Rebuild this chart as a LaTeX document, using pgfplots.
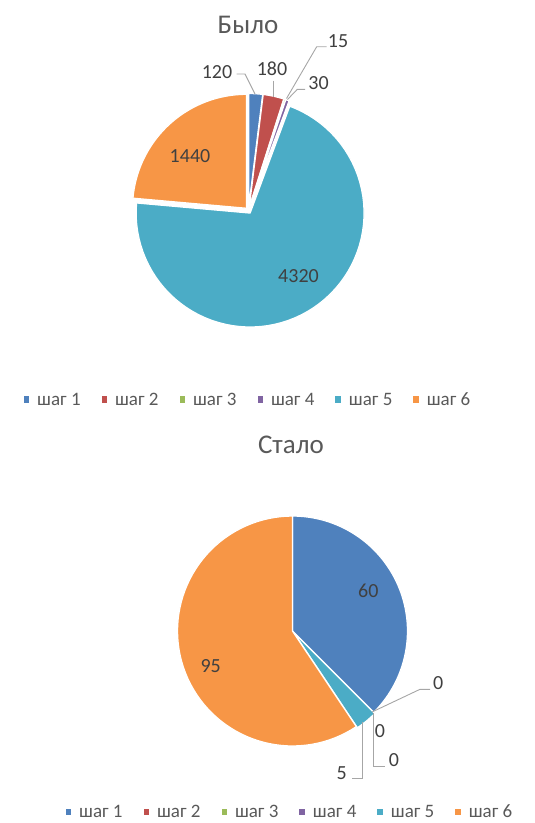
\documentclass[border=0pt]{standalone}
\usepackage{pgfplots}
\pgfplotsset{compat=1.18}
\usepackage{fontspec}
\setmainfont{Carlito}
\definecolor{c1}{HTML}{4F81BD}
\definecolor{c2}{HTML}{C0504D}
\definecolor{c3}{HTML}{9BBB59}
\definecolor{c4}{HTML}{8064A2}
\definecolor{c5}{HTML}{4BACC6}
\definecolor{c6}{HTML}{F79646}
\definecolor{lbl}{HTML}{404040}
\definecolor{ttl}{HTML}{595959}
\definecolor{leader}{HTML}{A6A6A6}

% one wedge: colour, start angle, end angle, cx, cy, r, explode
\newcommand\slice[7]{%
  \pgfmathsetmacro\midang{(#2+#3)/2}%
  \pgfmathsetmacro\ox{#4+#7*cos(\midang)}%
  \pgfmathsetmacro\oy{#5+#7*sin(\midang)}%
  \edef\doslice{\noexpand\addplot[fill=#1, draw=white, line width=1.3pt, line join=round, domain=#3:#2, samples=72, forget plot] ({\ox+#6*cos(x)}, {\oy+#6*sin(x)}) -- (axis cs:\ox,\oy) -- cycle;}%
  \doslice}
\newcommand\startpie[4]{\xdef\curang{90}\xdef\pietot{#1}\xdef\pcx{#2}\xdef\pcy{#3}\xdef\pr{#4}}
% colour, value, explode
\newcommand\nextslice[3]{%
  \pgfmathsetmacro\endang{\curang-#2/\pietot*360}%
  \ifdim #2pt>0pt \slice{#1}{\curang}{\endang}{\pcx}{\pcy}{\pr}{#3}\fi
  \xdef\curang{\endang}}

\tikzset{lab/.style={font=\fontsize{20}{20}\selectfont, text=lbl}}
\pgfplotsset{
  piestyle/.style={
    width=535pt, height=411.5pt, scale only axis,
    xmin=0, xmax=535, hide axis, clip=false,
    legend columns=6,
    legend image code/.code={\fill[##1, draw=none] (0pt,-3pt) rectangle (5.5pt,3.5pt);},
    legend style={draw=none, fill=none, anchor=center,
      font=\fontsize{19}{19}\selectfont, text=ttl,
      nodes={inner ysep=1pt},
      /tikz/every odd column/.append style={column sep=6pt},
      /tikz/every even column/.append style={column sep=19pt}},
  },
  lead/.style={draw=leader, line width=0.9pt, no marks, forget plot},
}

\begin{document}
\begin{tikzpicture}
\useasboundingbox (0pt,0pt) rectangle (535pt,-823pt);
% ---------------- Было ----------------
\begin{axis}[piestyle, at={(0pt,0pt)}, anchor=north west,
  ymin=-411.5, ymax=0,
  legend style={at={(rel axis cs:0.4636,0.028)}}]
\startpie{6105}{248.5}{-210.5}{114}
\nextslice{c1}{120}{3}
\nextslice{c2}{180}{3}
\nextslice{c3}{15}{3}
\nextslice{c4}{30}{3}
\nextslice{c5}{4320}{3}
\nextslice{c6}{1440}{3}
\addplot[lead] coordinates {(236.7,-74) (245,-74) (255,-94)};
\addplot[lead] coordinates {(273,-80.7) (273,-96.5)};
\addplot[lead] coordinates {(326.7,-46.7) (316.7,-46.7) (286.5,-98.5)};
\addplot[lead] coordinates {(305,-89.3) (297.3,-89.3) (287.5,-99.5)};
\node[lab] at (axis cs:217,-72) {120};
\node[lab] at (axis cs:272,-69) {180};
\node[lab] at (axis cs:338,-41) {15};
\node[lab] at (axis cs:318.5,-83.5) {30};
\node[lab] at (axis cs:190,-156) {1440};
\node[lab] at (axis cs:298.5,-276) {4320};
\node[font=\fontsize{27}{27}\selectfont, text=ttl] at (axis cs:248,-25) {Было};
\addlegendimage{fill=c1}\addlegendentry{шаг 1}
\addlegendimage{fill=c2}\addlegendentry{шаг 2}
\addlegendimage{fill=c3}\addlegendentry{шаг 3}
\addlegendimage{fill=c4}\addlegendentry{шаг 4}
\addlegendimage{fill=c5}\addlegendentry{шаг 5}
\addlegendimage{fill=c6}\addlegendentry{шаг 6}
\end{axis}
% ---------------- Стало ----------------
\begin{axis}[piestyle, at={(0pt,-411.5pt)}, anchor=north west,
  ymin=-823, ymax=-411.5,
  legend style={at={(rel axis cs:0.542,0.026)}}]
\startpie{160}{292.5}{-631}{115}
\nextslice{c1}{60}{0}
\nextslice{c2}{0}{0}
\nextslice{c3}{0}{0}
\nextslice{c4}{0}{0}
\nextslice{c5}{5}{1.5}
\nextslice{c6}{95}{0}
\addplot[lead] coordinates {(430,-689.3) (420,-689.3) (372,-712)};
\addplot[lead] coordinates {(373.3,-713) (373.3,-766.7) (385,-766.7)};
\addplot[lead] coordinates {(362.7,-721.7) (362.7,-778.3) (351.7,-778.3)};
\node[lab] at (axis cs:368.3,-590.7) {60};
\node[lab] at (axis cs:438.3,-682.7) {0};
\node[lab] at (axis cs:380,-730.7) {0};
\node[lab] at (axis cs:394,-760) {0};
\node[lab] at (axis cs:341.7,-773.3) {5};
\node[lab] at (axis cs:210.7,-666) {95};
\node[font=\fontsize{27}{27}\selectfont, text=ttl] at (axis cs:291,-445) {Стало};
\addlegendimage{fill=c1}\addlegendentry{шаг 1}
\addlegendimage{fill=c2}\addlegendentry{шаг 2}
\addlegendimage{fill=c3}\addlegendentry{шаг 3}
\addlegendimage{fill=c4}\addlegendentry{шаг 4}
\addlegendimage{fill=c5}\addlegendentry{шаг 5}
\addlegendimage{fill=c6}\addlegendentry{шаг 6}
\end{axis}
\end{tikzpicture}
\end{document}
